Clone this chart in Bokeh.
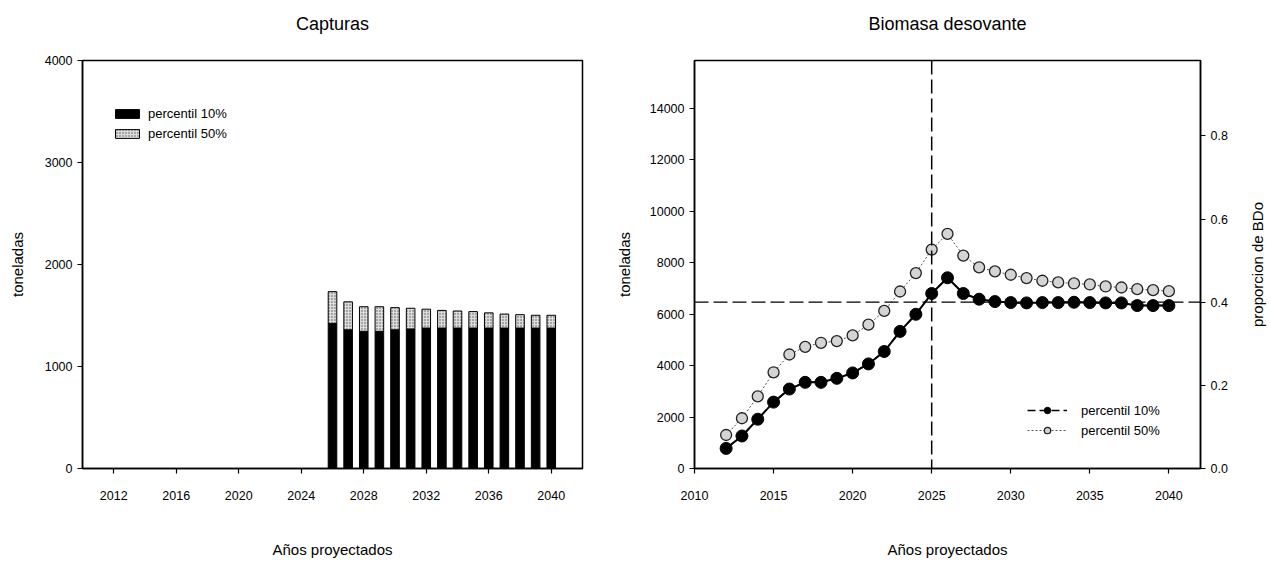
from bokeh.plotting import figure
from bokeh.layouts import row
from bokeh.models import (Range1d, LinearAxis, FixedTicker, Span, Legend, LegendItem,
                          ColumnDataSource, NumeralTickFormatter)
from bokeh.embed import file_html
from bokeh.resources import INLINE

# ---------------- data ----------------
cap_years = [2026, 2027, 2028, 2029, 2030, 2031, 2032, 2033, 2034, 2035, 2036, 2037, 2038, 2039, 2040]
cap_p10 = [1423, 1360, 1345, 1345, 1360, 1368, 1377, 1377, 1377, 1377, 1377, 1377, 1377, 1377, 1377]
cap_p50 = [1734, 1634, 1586, 1586, 1577, 1571, 1562, 1550, 1544, 1538, 1526, 1514, 1508, 1502, 1502]
cap_xticks = [2012, 2016, 2020, 2024, 2028, 2032, 2036, 2040]
cap_yticks = [0, 1000, 2000, 3000, 4000]

bio_years = [2012, 2013, 2014, 2015, 2016, 2017, 2018, 2019, 2020, 2021, 2022, 2023, 2024, 2025,
             2026, 2027, 2028, 2029, 2030, 2031, 2032, 2033, 2034, 2035, 2036, 2037, 2038, 2039, 2040]
bio_p10 = [781, 1263, 1914, 2579, 3087, 3347, 3347, 3503, 3712, 4063, 4545, 5326, 5991, 6798,
           7410, 6798, 6577, 6485, 6446, 6433, 6446, 6446, 6459, 6446, 6433, 6433, 6329, 6329, 6329]
bio_p50 = [1302, 1953, 2800, 3738, 4428, 4727, 4884, 4949, 5170, 5587, 6121, 6876, 7592, 8504,
           9116, 8270, 7814, 7658, 7527, 7397, 7293, 7228, 7189, 7150, 7072, 7032, 6967, 6928, 6889]
bio_xticks = [2010, 2015, 2020, 2025, 2030, 2035, 2040]
bio_yticks = [0, 2000, 4000, 6000, 8000, 10000, 12000, 14000]
prop_ticks = [0.0, 0.2, 0.4, 0.6, 0.8]
bdo_ref = 16150      # tonnes corresponding to proportion 1.0 of BDo
bio_ymax = 15850
ref_year = 2025
ref_prop = 0.4

FONT = "Liberation Sans"


def style_axes(p):
    p.outline_line_color = "black"
    p.outline_line_width = 1.5
    p.outline_line_alpha = 1
    p.xgrid.visible = False
    p.ygrid.visible = False
    p.background_fill_color = "white"
    p.border_fill_color = "white"
    for ax in p.axis:
        ax.major_tick_out = 5
        ax.major_tick_in = 0
        ax.minor_tick_out = 0
        ax.minor_tick_in = 0
        ax.axis_line_width = 1.5
        ax.major_tick_line_width = 1.2
        ax.major_label_text_font = FONT
        ax.major_label_text_font_size = "12.5px"
        ax.major_label_text_color = "black"
        ax.axis_label_text_font = FONT
        ax.axis_label_text_font_size = "15px"
        ax.axis_label_text_font_style = "normal"
        ax.axis_label_text_color = "black"
    for ax in p.xaxis:
        ax.major_label_standoff = 17
        ax.axis_label_standoff = 38


def add_title(p, text):
    # title drawn as the label of an empty axis above the frame
    ax = LinearAxis(ticker=FixedTicker(ticks=[]), axis_label=text, axis_line_color=None,
                    major_tick_out=0, major_tick_in=0, minor_tick_out=0, minor_tick_in=0,
                    major_label_standoff=0, major_label_text_font_size="0px",
                    axis_label_standoff=27, axis_label_text_font=FONT,
                    axis_label_text_font_size="18px", axis_label_text_font_style="normal",
                    axis_label_text_color="black")
    p.add_layout(ax, "above")


# ---------------- left: Capturas ----------------
p1 = figure(width=612, height=565, x_range=Range1d(2010, 2042), y_range=Range1d(0, 4000),
            output_backend="svg", toolbar_location=None,
            min_border_left=82, min_border_right=30, min_border_top=60, min_border_bottom=97)
src_c = ColumnDataSource(dict(x=cap_years, p10=cap_p10, p50=cap_p50))
r_b10 = p1.vbar(x="x", top="p10", bottom=0, width=0.55, source=src_c,
                fill_color="black", line_color="black")
r_b50 = p1.vbar(x="x", top="p50", bottom="p10", width=0.55, source=src_c,
                fill_color="#dcdcdc", line_color="black", line_width=1,
                hatch_pattern="dot", hatch_color="#555555", hatch_scale=3, hatch_weight=1)
p1.xaxis.ticker = FixedTicker(ticks=cap_xticks)
p1.yaxis.ticker = FixedTicker(ticks=cap_yticks)
p1.xaxis.axis_label = "Años proyectados"
p1.yaxis.axis_label = "toneladas"
p1.yaxis.axis_label_standoff = 16
style_axes(p1)
add_title(p1, "Capturas")
leg1 = Legend(items=[LegendItem(label="percentil 10%", renderers=[r_b10]),
                     LegendItem(label="percentil 50%", renderers=[r_b50])],
              location=(30, 326), border_line_color=None, background_fill_alpha=0,
              padding=0, spacing=2, label_standoff=6, glyph_width=30, glyph_height=11,
              label_height=18, label_text_font=FONT, label_text_font_size="13px",
              label_text_color="black")
p1.add_layout(leg1)

# ---------------- right: Biomasa desovante ----------------
p2 = figure(width=618, height=565, x_range=Range1d(2010, 2042), y_range=Range1d(0, bio_ymax),
            output_backend="svg", toolbar_location=None,
            min_border_left=82, min_border_right=30, min_border_top=60, min_border_bottom=97)
p2.extra_y_ranges = {"prop": Range1d(0, bio_ymax / bdo_ref)}
src_b = ColumnDataSource(dict(x=bio_years, p10=bio_p10, p50=bio_p50))

l50 = p2.line(x="x", y="p50", source=src_b, line_color="#555555", line_width=1, line_dash="2 2")
m50 = p2.scatter(x="x", y="p50", source=src_b, size=11, fill_color="#d4d4d4",
                 line_color="#222222", line_width=1.3)
# dashed swatch for the legend (hidden underneath the solid line in the plot)
lg10 = p2.line(x="x", y="p10", source=src_b, line_color="black", line_width=1.5, line_dash="8 4")
l10 = p2.line(x="x", y="p10", source=src_b, line_color="black", line_width=2)
m10 = p2.scatter(x="x", y="p10", source=src_b, size=12, fill_color="black", line_color="black")

p2.add_layout(Span(location=ref_year, dimension="height", line_color="black",
                   line_width=1.5, line_dash="14 5"))
p2.add_layout(Span(location=ref_prop, dimension="width", y_range_name="prop",
                   line_color="black", line_width=1.3, line_dash="14 5"))

rax = LinearAxis(y_range_name="prop", ticker=FixedTicker(ticks=prop_ticks),
                 formatter=NumeralTickFormatter(format="0.0"))
p2.add_layout(rax, "right")
p2.xaxis.ticker = FixedTicker(ticks=bio_xticks)
p2.yaxis[0].ticker = FixedTicker(ticks=bio_yticks)
p2.xaxis.axis_label = "Años proyectados"
p2.yaxis[0].axis_label = "toneladas"
p2.yaxis[0].axis_label_standoff = 14
style_axes(p2)
add_title(p2, "Biomasa desovante")

leg2 = Legend(items=[LegendItem(label="percentil 10%", renderers=[lg10, m10]),
                     LegendItem(label="percentil 50%", renderers=[l50, m50])],
              location=(333, 29), border_line_color=None, background_fill_alpha=0,
              padding=0, spacing=2, label_standoff=14, glyph_width=40, glyph_height=16,
              label_height=18, label_text_font=FONT, label_text_font_size="13px",
              label_text_color="black")
p2.add_layout(leg2)

# ---------------- strip carrying the right-axis title (reads bottom-to-top) ----------------
p3 = figure(width=41, height=565, x_range=Range1d(0, 1), y_range=Range1d(0, 1),
            output_backend="svg", toolbar_location=None,
            min_border_left=35, min_border_right=0, min_border_top=60, min_border_bottom=97)
p3.outline_line_color = None
p3.xgrid.visible = False
p3.ygrid.visible = False
p3.xaxis.visible = False
yax3 = p3.yaxis[0]
yax3.ticker = FixedTicker(ticks=[])
yax3.axis_line_color = None
yax3.major_tick_out = 0
yax3.major_tick_in = 0
yax3.minor_tick_out = 0
yax3.minor_tick_in = 0
yax3.major_label_standoff = 0
yax3.major_label_text_font_size = "0px"
yax3.axis_label = "proporcion de BDo"
yax3.axis_label_standoff = 0
yax3.axis_label_text_font = FONT
yax3.axis_label_text_font_size = "15px"
yax3.axis_label_text_font_style = "normal"
yax3.axis_label_text_color = "black"

layout = row(p1, p2, p3)
open("out.html", "w").write(file_html(layout, INLINE))
